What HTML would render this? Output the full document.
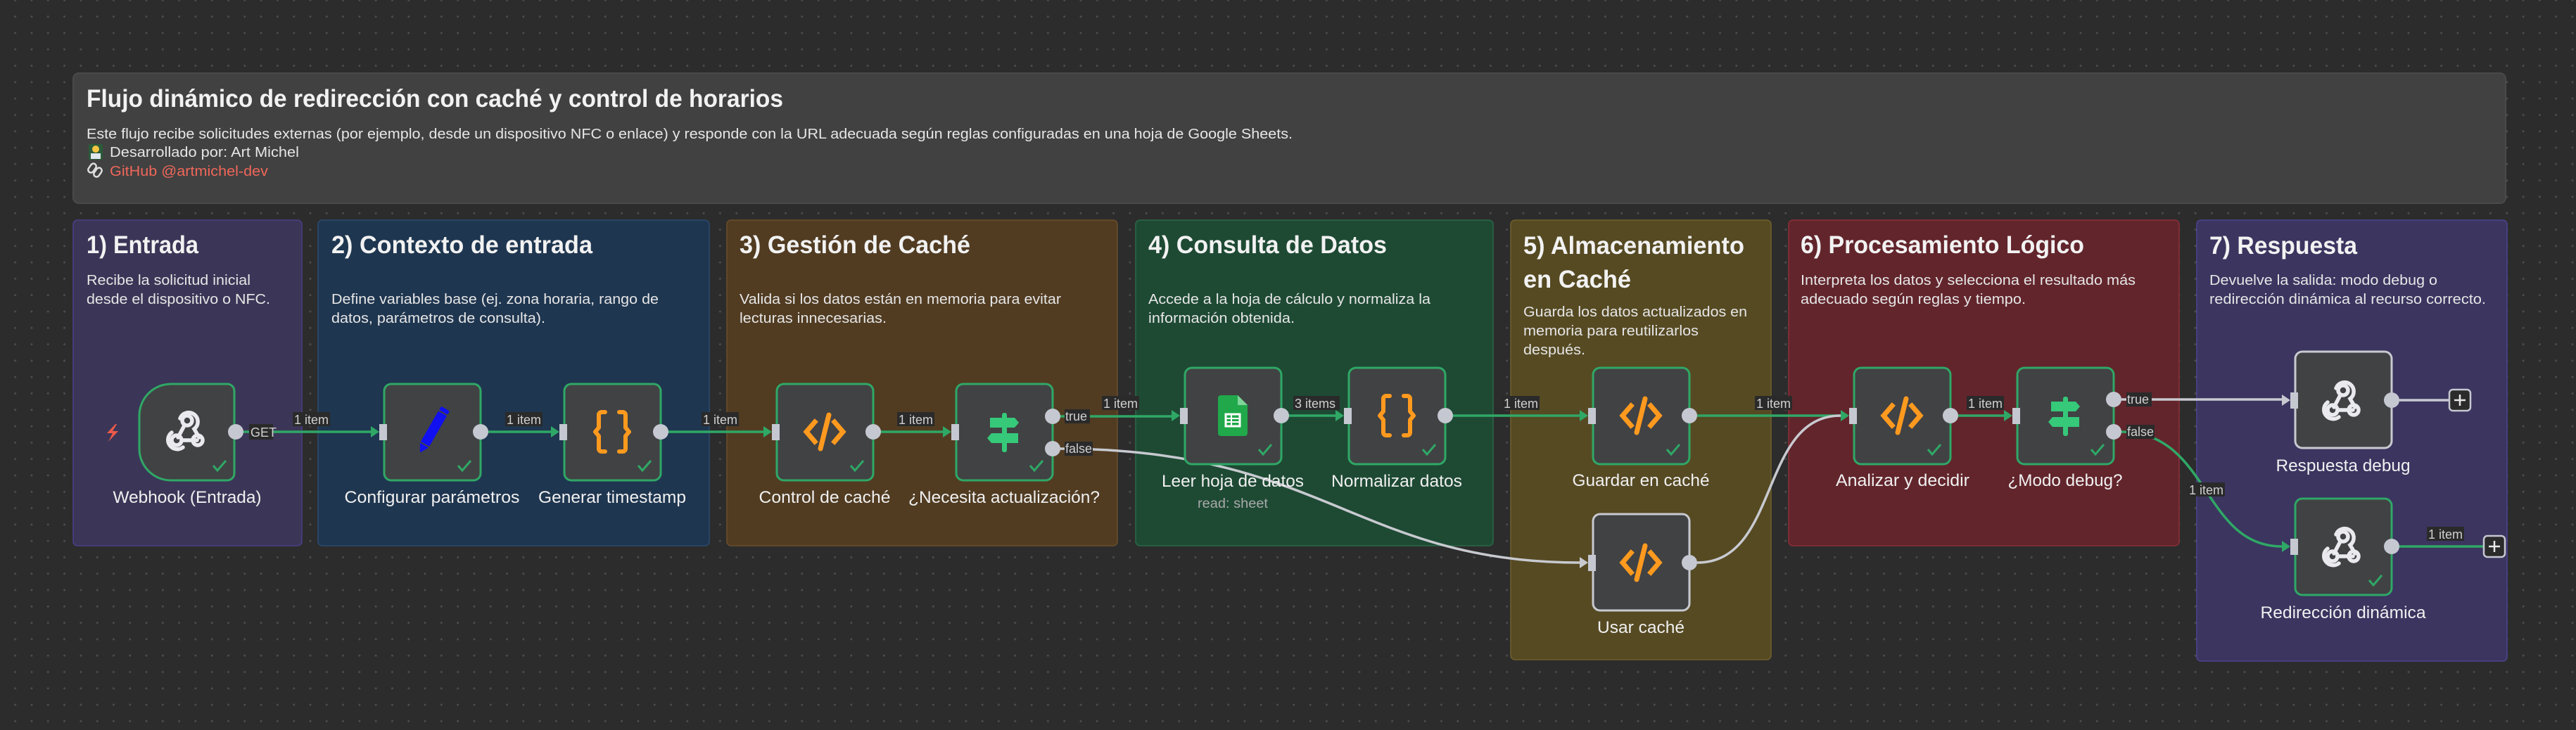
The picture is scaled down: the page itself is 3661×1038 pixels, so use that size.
<!DOCTYPE html>
<html><head><meta charset="utf-8"><style>
html,body{margin:0;padding:0;width:3661px;height:1038px;overflow:hidden;background:#2c2c2c;}
body{background-image:radial-gradient(circle,#4d4d4d 1.2px,transparent 1.8px);background-size:23.3px 23.3px;background-position:10px 12px;}
svg{position:absolute;left:0;top:0;}
text{font-family:"Liberation Sans",Arial,sans-serif;}
.t{fill:#f2f2f2;font-weight:bold;font-size:35px;}
.d{fill:#e6e6e6;font-size:20px;}
.n{fill:#f0f0f0;font-size:24px;text-anchor:middle;}
.l{fill:#d0d0d0;font-size:18px;}
</style></head><body>
<svg width="3661" height="1038" viewBox="0 0 3661 1038" xmlns="http://www.w3.org/2000/svg">
<defs>
<g id="code"><path d="M-14,-14 L-26,0 L-14,14" fill="none" stroke="#ff9a1f" stroke-width="7" stroke-linecap="square"/><path d="M14,-14 L26,0 L14,14" fill="none" stroke="#ff9a1f" stroke-width="7" stroke-linecap="square"/><path d="M6,-24 L-6,24" stroke="#ff9a1f" stroke-width="7" stroke-linecap="round"/></g>
<g id="chk"><path d="M-9,0 L-3,7 L9,-7" fill="none" stroke="#2fa866" stroke-width="3"/></g>
<g id="hook" fill="none" stroke="#e9e9ee" stroke-width="5.5" stroke-linecap="round"><circle cx="0" cy="-14" r="7"/><path d="M-4,-7 L-13,10"/><circle cx="-15" cy="14" r="7"/><path d="M-8,14 L14,14"/><circle cx="15" cy="14" r="7"/><path d="M-10,-17 A13,13 0 1 1 10,-2 L17,10"/><path d="M-22,3 A12,12 0 0 0 -6,24"/></g>
<g id="sw" fill="#35c979"><rect x="-3" y="-27" width="7" height="56" rx="3"/><path d="M-20,-20 H15 L21,-13 L15,-6 H-20 Z"/><path d="M-18,2 H20 V16 H-18 L-24,9 Z"/></g>
<g id="brace" fill="none" stroke="#ff9a1f" stroke-width="6" stroke-linejoin="round" stroke-linecap="round">
<path d="M-10,-28 H-15 a4,4 0 0 0 -4,4 V-6 L-24,0 L-19,6 V24 a4,4 0 0 0 4,4 H-10"/>
<path d="M10,-28 H15 a4,4 0 0 1 4,4 V-6 L24,0 L19,6 V24 a4,4 0 0 1 -4,4 H10"/>
</g>
</defs>

<!-- header -->
<rect x="104" y="104" width="3457" height="185" rx="8" fill="#414141" stroke="#4a4a4a" stroke-width="2"/>
<text x="123" y="152" class="t" font-size="34" textLength="990" lengthAdjust="spacingAndGlyphs">Flujo dinámico de redirección con caché y control de horarios</text>
<text x="123" y="197" class="d" textLength="1714" lengthAdjust="spacingAndGlyphs">Este flujo recibe solicitudes externas (por ejemplo, desde un dispositivo NFC o enlace) y responde con la URL adecuada según reglas configuradas en una hoja de Google Sheets.</text>
<rect x="126" y="205" width="20" height="22" rx="2" fill="#2b5b3a"/><circle cx="136" cy="212" r="5" fill="#f5c542"/><rect x="129" y="218" width="14" height="8" fill="#dfe6ee"/>
<text x="156" y="223" class="d" textLength="269" lengthAdjust="spacingAndGlyphs">Desarrollado por: Art Michel</text>
<g fill="none" stroke="#ddd" stroke-width="2.5"><rect x="127" y="232" width="8" height="14" rx="4" transform="rotate(35 131 239)"/><rect x="135" y="238" width="8" height="14" rx="4" transform="rotate(35 139 245)"/></g>
<text x="156" y="250" class="d" style="fill:#f0675a" textLength="225" lengthAdjust="spacingAndGlyphs">GitHub @artmichel-dev</text>

<!-- groups -->
<rect x="104" y="313" width="325" height="463" rx="6" fill="#3b3657" stroke="#4b3f8a" stroke-width="1.5"/>
<rect x="452" y="313" width="556" height="463" rx="6" fill="#1f3650" stroke="#2a4b6e" stroke-width="1.5"/>
<rect x="1033" y="313" width="555" height="463" rx="6" fill="#513c22" stroke="#6b4e2b" stroke-width="1.5"/>
<rect x="1614" y="313" width="508" height="463" rx="6" fill="#1e4a34" stroke="#2b6848" stroke-width="1.5"/>
<rect x="2147" y="313" width="370" height="625" rx="6" fill="#564a23" stroke="#6f602c" stroke-width="1.5"/>
<rect x="2542" y="313" width="555" height="463" rx="6" fill="#62252c" stroke="#8c2f3a" stroke-width="1.5"/>
<rect x="3122" y="313" width="441" height="627" rx="6" fill="#3b3560" stroke="#4d4592" stroke-width="1.5"/>

<text x="123" y="360" class="t" textLength="159" lengthAdjust="spacingAndGlyphs">1) Entrada</text>
<text x="123" y="405" class="d" textLength="233" lengthAdjust="spacingAndGlyphs">Recibe la solicitud inicial</text>
<text x="123" y="432" class="d" textLength="261" lengthAdjust="spacingAndGlyphs">desde el dispositivo o NFC.</text>

<text x="471" y="360" class="t" textLength="371" lengthAdjust="spacingAndGlyphs">2) Contexto de entrada</text>
<text x="471" y="432" class="d" textLength="465" lengthAdjust="spacingAndGlyphs">Define variables base (ej. zona horaria, rango de</text>
<text x="471" y="459" class="d" textLength="304" lengthAdjust="spacingAndGlyphs">datos, parámetros de consulta).</text>

<text x="1051" y="360" class="t" textLength="328" lengthAdjust="spacingAndGlyphs">3) Gestión de Caché</text>
<text x="1051" y="432" class="d" textLength="457" lengthAdjust="spacingAndGlyphs">Valida si los datos están en memoria para evitar</text>
<text x="1051" y="459" class="d" textLength="209" lengthAdjust="spacingAndGlyphs">lecturas innecesarias.</text>

<text x="1632" y="360" class="t" textLength="339" lengthAdjust="spacingAndGlyphs">4) Consulta de Datos</text>
<text x="1632" y="432" class="d" textLength="401" lengthAdjust="spacingAndGlyphs">Accede a la hoja de cálculo y normaliza la</text>
<text x="1632" y="459" class="d" textLength="208" lengthAdjust="spacingAndGlyphs">información obtenida.</text>

<text x="2165" y="361" class="t" textLength="314" lengthAdjust="spacingAndGlyphs">5) Almacenamiento</text>
<text x="2165" y="409" class="t" textLength="153" lengthAdjust="spacingAndGlyphs">en Caché</text>
<text x="2165" y="450" class="d" textLength="318" lengthAdjust="spacingAndGlyphs">Guarda los datos actualizados en</text>
<text x="2165" y="477" class="d" textLength="249" lengthAdjust="spacingAndGlyphs">memoria para reutilizarlos</text>
<text x="2165" y="504" class="d" textLength="88" lengthAdjust="spacingAndGlyphs">después.</text>

<text x="2559" y="360" class="t" textLength="403" lengthAdjust="spacingAndGlyphs">6) Procesamiento Lógico</text>
<text x="2559" y="405" class="d" textLength="476" lengthAdjust="spacingAndGlyphs">Interpreta los datos y selecciona el resultado más</text>
<text x="2559" y="432" class="d" textLength="320" lengthAdjust="spacingAndGlyphs">adecuado según reglas y tiempo.</text>

<text x="3140" y="361" class="t" textLength="210" lengthAdjust="spacingAndGlyphs">7) Respuesta</text>
<text x="3140" y="405" class="d" textLength="324" lengthAdjust="spacingAndGlyphs">Devuelve la salida: modo debug o</text>
<text x="3140" y="432" class="d" textLength="393" lengthAdjust="spacingAndGlyphs">redirección dinámica al recurso correcto.</text>

<!-- edges -->
<g fill="none" stroke-width="3.5">
<path d="M346,614 H527" stroke="#2fa866"/>
<path d="M694,614 H783" stroke="#2fa866"/>
<path d="M949,614 H1085" stroke="#2fa866"/>
<path d="M1251,614 H1340" stroke="#2fa866"/>
<path d="M1506,592 H1665" stroke="#2fa866"/>
<path d="M1831,591 H1898" stroke="#2fa866"/>
<path d="M2064,591 H2245" stroke="#2fa866"/>
<path d="M2412,591 H2616" stroke="#2fa866"/>
<path d="M2783,591 H2848" stroke="#2fa866"/>
<path d="M1506,638 C1880,638 1930,800 2245,800" stroke="#c8cad0"/>
<path d="M2412,800 C2530,800 2500,591 2616,591" stroke="#c8cad0"/>
<path d="M3015,568 H3243" stroke="#c8cad0"/>
<path d="M3015,614 C3140,614 3130,777 3243,777" stroke="#2fa866"/>
<path d="M3410,569 H3481" stroke="#c8cad0"/>
<path d="M3410,777 H3530" stroke="#2fa866"/>
</g>
<g fill="#2fa866">
<path d="M527,606 L539,614 L527,622Z"/><path d="M783,606 L795,614 L783,622Z"/><path d="M1085,606 L1097,614 L1085,622Z"/><path d="M1340,606 L1352,614 L1340,622Z"/>
<path d="M1665,583 L1677,591 L1665,599Z"/><path d="M1898,583 L1910,591 L1898,599Z"/><path d="M2245,583 L2257,591 L2245,599Z"/><path d="M2616,583 L2628,591 L2616,599Z"/><path d="M2848,583 L2860,591 L2848,599Z"/>
<path d="M3243,769 L3255,777 L3243,785Z"/>
</g>
<g fill="#c8cad0"><path d="M2245,792 L2257,800 L2245,808Z"/><path d="M3243,561 L3255,569 L3243,577Z"/></g>

<!-- edge labels -->
<g>
<rect x="354" y="603" width="34" height="22" fill="#2a2a2a"/><text x="356" y="621" class="l">GET</text>
<rect x="416" y="586" width="53" height="20" fill="#2a2a2a"/><text x="418" y="603" class="l">1 item</text>
<rect x="718" y="586" width="53" height="20" fill="#2a2a2a"/><text x="720" y="603" class="l">1 item</text>
<rect x="997" y="586" width="53" height="20" fill="#2a2a2a"/><text x="999" y="603" class="l">1 item</text>
<rect x="1275" y="586" width="53" height="20" fill="#2a2a2a"/><text x="1277" y="603" class="l">1 item</text>
<rect x="1566" y="563" width="53" height="20" fill="#2a2a2a"/><text x="1568" y="580" class="l">1 item</text>
<rect x="1838" y="563" width="66" height="20" fill="#2a2a2a"/><text x="1840" y="580" class="l">3 items</text>
<rect x="2135" y="563" width="53" height="20" fill="#2a2a2a"/><text x="2137" y="580" class="l">1 item</text>
<rect x="2494" y="563" width="53" height="20" fill="#2a2a2a"/><text x="2496" y="580" class="l">1 item</text>
<rect x="2795" y="563" width="53" height="20" fill="#2a2a2a"/><text x="2797" y="580" class="l">1 item</text>
<rect x="3109" y="686" width="53" height="20" fill="#2a2a2a"/><text x="3111" y="703" class="l">1 item</text>
<rect x="3449" y="749" width="53" height="20" fill="#2a2a2a"/><text x="3451" y="766" class="l">1 item</text>
<rect x="1513" y="582" width="36" height="20" fill="#2a2a2a"/><text x="1514" y="598" class="l">true</text>
<rect x="1513" y="628" width="40" height="20" fill="#2a2a2a"/><text x="1514" y="644" class="l">false</text>
<rect x="3022" y="558" width="36" height="20" fill="#2a2a2a"/><text x="3023" y="574" class="l">true</text>
<rect x="3022" y="604" width="40" height="20" fill="#2a2a2a"/><text x="3023" y="620" class="l">false</text>
</g>

<!-- nodes -->
<g stroke-width="3">
<path d="M243,546 H323 a10,10 0 0 1 10,10 V673 a10,10 0 0 1 -10,10 H243 a45,45 0 0 1 -45,-45 V591 a45,45 0 0 1 45,-45Z" fill="#414244" stroke="#2fa866"/>
<rect x="546" y="546" width="137" height="137" rx="10" fill="#414244" stroke="#2fa866"/>
<rect x="802" y="546" width="137" height="137" rx="10" fill="#414244" stroke="#2fa866"/>
<rect x="1104" y="546" width="137" height="137" rx="10" fill="#414244" stroke="#2fa866"/>
<rect x="1359" y="546" width="137" height="137" rx="10" fill="#414244" stroke="#2fa866"/>
<rect x="1684" y="523" width="137" height="137" rx="10" fill="#414244" stroke="#2fa866"/>
<rect x="1917" y="523" width="137" height="137" rx="10" fill="#414244" stroke="#2fa866"/>
<rect x="2264" y="523" width="137" height="137" rx="10" fill="#414244" stroke="#2fa866"/>
<rect x="2264" y="731" width="137" height="137" rx="10" fill="#414244" stroke="#c8cad0"/>
<rect x="2635" y="523" width="137" height="137" rx="10" fill="#414244" stroke="#2fa866"/>
<rect x="2867" y="523" width="137" height="137" rx="10" fill="#414244" stroke="#2fa866"/>
<rect x="3262" y="500" width="137" height="137" rx="10" fill="#414244" stroke="#c8cad0"/>
<rect x="3262" y="709" width="137" height="137" rx="10" fill="#414244" stroke="#2fa866"/>
</g>

<!-- icons -->
<use href="#hook" x="266" y="612"/>
<path d="M164,603 L152,616 L160,616 L154,628 L168,613 L160,613 L166,603Z" fill="#ee5a4a"/>
<g transform="translate(614,614) rotate(30)"><rect x="-7" y="-30" width="14" height="50" fill="#1010f0"/><rect x="-7" y="-38" width="14" height="6" rx="2" fill="#1010f0"/><path d="M-7,22 L7,22 L0,34Z" fill="#1010f0"/></g>
<use href="#brace" x="870" y="614"/>
<use href="#code" x="1172" y="614"/>
<use href="#sw" x="1427" y="614"/>
<g transform="translate(1752,591)"><path d="M-21,-29 H7 L21,-15 V25 a4,4 0 0 1 -4,4 H-17 a4,4 0 0 1 -4,-4 V-25 a4,4 0 0 1 4,-4Z" fill="#20a84a"/><path d="M7,-29 L21,-15 H7Z" fill="#7fd49a"/><rect x="-10" y="-2" width="20" height="17" fill="none" stroke="#fff" stroke-width="3"/><path d="M-10,4 H10 M-10,9 H10 M-2,-2 V15" stroke="#fff" stroke-width="2"/></g>
<use href="#brace" x="1985" y="591"/>
<use href="#code" x="2332" y="591"/>
<use href="#code" x="2332" y="800"/>
<use href="#code" x="2703" y="591"/>
<use href="#sw" x="2935" y="591"/>
<use href="#hook" x="3330" y="569"/>
<use href="#hook" x="3330" y="777"/>

<use href="#chk" x="312" y="662"/><use href="#chk" x="660" y="662"/><use href="#chk" x="916" y="662"/>
<use href="#chk" x="1218" y="662"/><use href="#chk" x="1473" y="662"/><use href="#chk" x="1798" y="639"/>
<use href="#chk" x="2031" y="639"/><use href="#chk" x="2378" y="639"/><use href="#chk" x="2749" y="639"/>
<use href="#chk" x="2981" y="639"/><use href="#chk" x="3376" y="825"/>

<!-- handles -->
<g fill="#c5c8d1">
<circle cx="335" cy="614" r="11"/><circle cx="683" cy="614" r="11"/><circle cx="939" cy="614" r="11"/>
<circle cx="1241" cy="614" r="11"/><circle cx="1496" cy="592" r="11"/><circle cx="1496" cy="638" r="11"/>
<circle cx="1821" cy="591" r="11"/><circle cx="2054" cy="591" r="11"/><circle cx="2401" cy="591" r="11"/>
<circle cx="2401" cy="800" r="11"/><circle cx="2772" cy="591" r="11"/><circle cx="3004" cy="568" r="11"/>
<circle cx="3004" cy="614" r="11"/><circle cx="3399" cy="569" r="11"/><circle cx="3399" cy="777" r="11"/>
<rect x="539" y="603" width="11" height="23"/><rect x="795" y="603" width="11" height="23"/>
<rect x="1097" y="603" width="11" height="23"/><rect x="1352" y="603" width="11" height="23"/>
<rect x="1677" y="580" width="11" height="23"/><rect x="1910" y="580" width="11" height="23"/>
<rect x="2257" y="580" width="11" height="23"/><rect x="2257" y="789" width="11" height="23"/>
<rect x="2628" y="580" width="11" height="23"/><rect x="2860" y="580" width="11" height="23"/>
<rect x="3255" y="558" width="11" height="23"/><rect x="3255" y="766" width="11" height="23"/>
</g>
<g fill="#2b2b2b" stroke="#c5c8d1" stroke-width="2.5"><rect x="3481" y="554" width="30" height="30" rx="5"/><rect x="3530" y="762" width="30" height="30" rx="5"/></g>
<g stroke="#e8e8e8" stroke-width="2.5"><path d="M3488,569 H3504 M3496,561 V577"/><path d="M3537,777 H3553 M3545,769 V785"/></g>

<!-- node labels -->
<text x="266" y="715" class="n" textLength="211" lengthAdjust="spacingAndGlyphs">Webhook (Entrada)</text>
<text x="614" y="715" class="n" textLength="249" lengthAdjust="spacingAndGlyphs">Configurar parámetros</text>
<text x="870" y="715" class="n" textLength="210" lengthAdjust="spacingAndGlyphs">Generar timestamp</text>
<text x="1172" y="715" class="n" textLength="187" lengthAdjust="spacingAndGlyphs">Control de caché</text>
<text x="1427" y="715" class="n" textLength="272" lengthAdjust="spacingAndGlyphs">¿Necesita actualización?</text>
<text x="1752" y="692" class="n" textLength="202" lengthAdjust="spacingAndGlyphs">Leer hoja de datos</text>
<text x="1752" y="722" class="n" style="fill:#a9a9a9;font-size:19px" textLength="100" lengthAdjust="spacingAndGlyphs">read: sheet</text>
<text x="1985" y="692" class="n" textLength="186" lengthAdjust="spacingAndGlyphs">Normalizar datos</text>
<text x="2332" y="691" class="n" textLength="195" lengthAdjust="spacingAndGlyphs">Guardar en caché</text>
<text x="2332" y="900" class="n" textLength="124" lengthAdjust="spacingAndGlyphs">Usar caché</text>
<text x="2704" y="691" class="n" textLength="190" lengthAdjust="spacingAndGlyphs">Analizar y decidir</text>
<text x="2935" y="691" class="n" textLength="163" lengthAdjust="spacingAndGlyphs">¿Modo debug?</text>
<text x="3330" y="670" class="n" textLength="191" lengthAdjust="spacingAndGlyphs">Respuesta debug</text>
<text x="3330" y="879" class="n" textLength="235" lengthAdjust="spacingAndGlyphs">Redirección dinámica</text>
</svg>
</body></html>
